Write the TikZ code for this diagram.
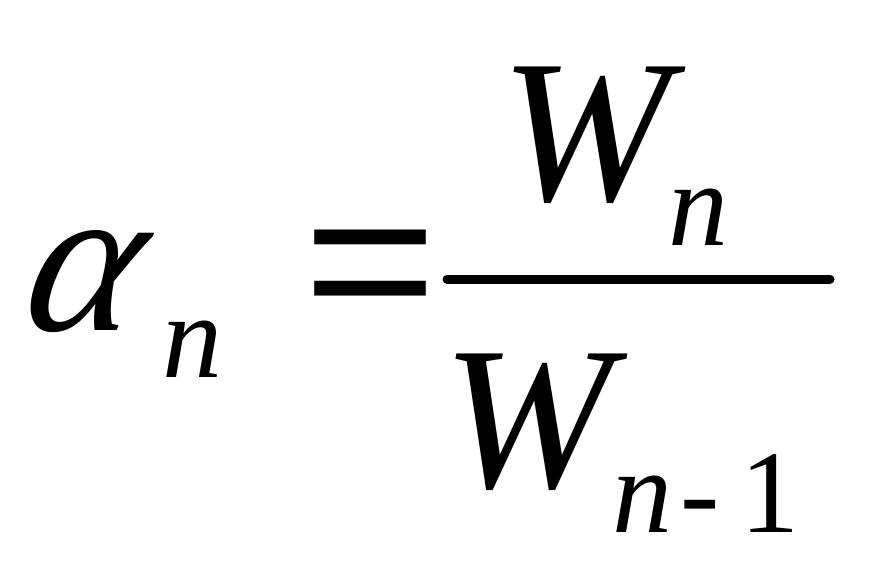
\documentclass[tikz,border=0pt]{standalone}
\usepackage{fontspec}
\setmainfont{Liberation Serif}
\newfontfamily\eqfont{Liberation Sans}
\begin{document}
\begin{tikzpicture}[x=1pt,y=-1pt,
  glyph/.style={inner sep=0pt,outer sep=0pt,anchor=base west},
  big/.style={glyph,font=\fontsize{204}{204}\selectfont\itshape},
  small/.style={glyph,font=\fontsize{120}{120}\selectfont\itshape},
  smallup/.style={glyph,font=\fontsize{118}{118}\selectfont}]
\useasboundingbox (0,0) rectangle (870,575);
\node[glyph,font=\fontsize{212}{212}\selectfont\itshape,xslant=0.22] (alpha) at (18,330) {α};
\node[small] (n1) at (162,377) {n};
\node[glyph,font=\fontsize{205}{205}\selectfont\eqfont,xscale=1.12] (eq) at (303,330) {=};
\coordinate (barL) at (447,279);
\coordinate (barR) at (830,279);
\draw[line width=9pt,line cap=round] (barL) -- (barR);
\node[big] (Wt) at (500,200) {W};
\node[small] (n2) at (668,245) {n};
\node[big] (Wb) at (442,487) {W};
\node[small] (n3) at (612,532) {n};
\node[smallup] (minus) at (680,532) {-};
\node[smallup] (one) at (740,532) {1};
\end{tikzpicture}
\end{document}
